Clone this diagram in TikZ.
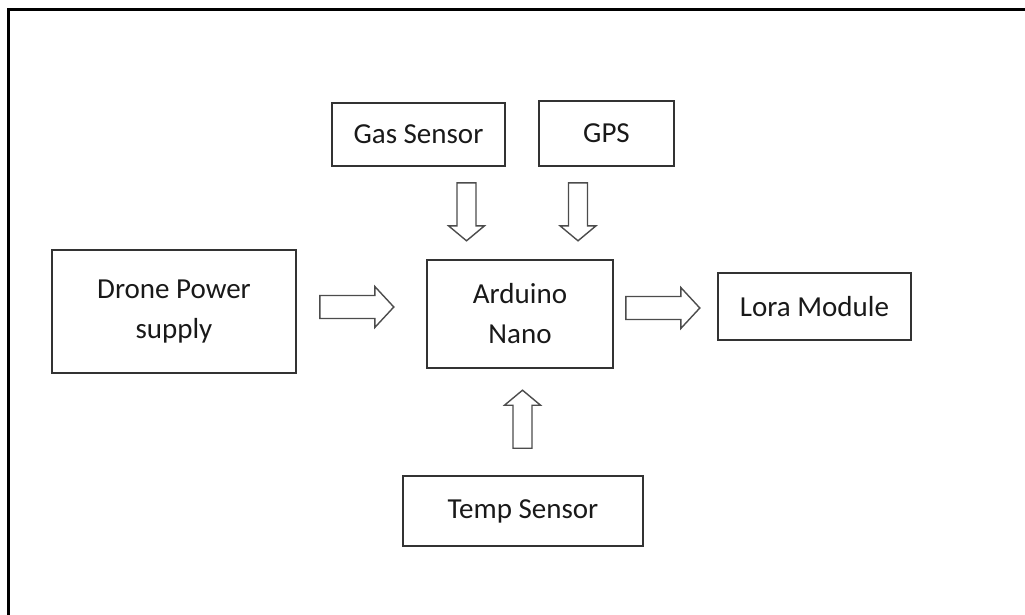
\documentclass[tikz,border=0pt]{standalone}
\usepackage{fontspec}
\setmainfont{Carlito}
\usetikzlibrary{calc}
\tikzset{
  box/.style={draw=black!80, line width=1.6pt, rectangle, inner sep=0pt, align=center,
    font=\fontsize{29}{40}\selectfont, text=black!90},
  blockarrow/.style={draw=black!70, line width=1.4pt, fill=white, line join=miter},
}
\newcommand\harrowshape[2]{% tail coordinate, rotation
  \draw[blockarrow, shift={(#1)}, rotate=#2]
    (0,11.5) -- (55,11.5) -- (55,20.5) -- (74,0) -- (55,-20.5) -- (55,-11.5) -- (0,-11.5) -- cycle;}
\newcommand\varrowshape[2]{% tail coordinate, rotation
  \draw[blockarrow, shift={(#1)}, rotate=#2]
    (0,9.5) -- (43,9.5) -- (43,18) -- (58,0) -- (43,-18) -- (43,-9.5) -- (0,-9.5) -- cycle;}
\begin{document}
\begin{tikzpicture}[x=1pt,y=-1pt]
\useasboundingbox (0,0) rectangle (1025,615);
% outer frame (only left and top edges visible)
\draw[line width=2.4pt, black] (8.5,615) -- (8.5,9.5) -- (1025,9.5);

\node[box, minimum width=173pt, minimum height=63pt] (gas) at (418.5,134.5) {Gas Sensor};
\node[box, minimum width=135pt, minimum height=65pt] (gps) at (606.5,133.5) {GPS};
\node[box, minimum width=244pt, minimum height=123pt] (drone) at (174,311.5) {Drone Power\\supply};
\node[box, minimum width=186pt, minimum height=108pt] (ard) at (520,314) {Arduino\\Nano};
\node[box, minimum width=193pt, minimum height=67pt] (lora) at (814.5,306.5) {Lora Module};
\node[box, minimum width=240pt, minimum height=70pt] (temp) at (523,511) {Temp Sensor};

% arrow tails, placed from the named nodes
\coordinate (dronetail) at ($(drone.east)+(23,-4.5)$);
\coordinate (loratail) at ($(ard.east)+(12,-6)$);
\coordinate (gastail) at ($(gas.south)+(48,16)$);
\coordinate (gpstail) at ($(gps.south)+(-28.5,16)$);
\coordinate (temptail) at ($(temp.north)+(-0.5,-27)$);

\harrowshape{dronetail}{0}
\harrowshape{loratail}{0}
\varrowshape{gastail}{-90}
\varrowshape{gpstail}{-90}
\varrowshape{temptail}{90}
\end{tikzpicture}
\end{document}
